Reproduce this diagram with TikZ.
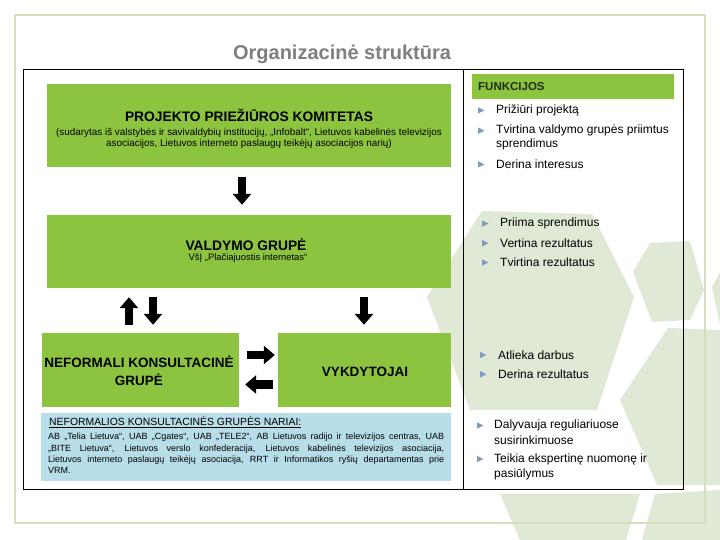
\documentclass[tikz,border=0pt]{standalone}
\usepackage{fontspec}
\setmainfont{Liberation Sans}
\usetikzlibrary{arrows.meta}
\definecolor{grn}{HTML}{8CC43F}
\definecolor{ltblue}{HTML}{B7DDE8}
\definecolor{framec}{HTML}{D5DFC0}
\definecolor{hexc}{HTML}{E0E9D5}
\definecolor{titlec}{HTML}{7F7F7F}
\definecolor{bulc}{HTML}{7D9BC3}
\definecolor{funkc}{HTML}{1F2E14}
\newcommand\tribul[2]{\fill[bulc] (#1-3,#2-3.2) -- (#1+3.5,#2) -- (#1-3,#2+3.2) -- cycle;}
\begin{document}
\begin{tikzpicture}[x=1pt,y=-1pt,
  gbox/.style={fill=grn, draw=none, inner sep=0pt},
  blk/.style={line width=8.5pt, -{Triangle[width=18pt,length=11pt]}},
  ftxt/.style={anchor=west, inner sep=0pt, font=\fontsize{12}{14}\selectfont},
  btitle/.style={inner sep=0pt, align=center, font=\fontsize{13.8}{16.5}\selectfont\bfseries},
  bsub/.style={inner sep=0pt, align=center, font=\fontsize{9.9}{11}\selectfont}]
\useasboundingbox (0,0) rectangle (720,540);
\fill[white] (0,0) rectangle (720,540);
% background hexagons
\fill[hexc] (482,211) -- (592,214) -- (634,297) -- (597,410) -- (470,410) -- (427,297) -- cycle;
\fill[hexc] (633,272) -- (650,243) -- (690,241) -- (704,290) -- (690,320) -- (652,322) -- cycle;
\fill[hexc] (620,400) -- (668,328) -- (720,330) -- (720,485) -- (657,485) -- cycle;
\fill[hexc] (712,287) -- (720,272) -- (720,325) -- cycle;
\fill[hexc] (500,494) -- (640,494) -- (626,540) -- (520,540) -- cycle;
\fill[hexc] (655,494) -- (720,490) -- (720,540) -- (642,540) -- cycle;
% slide frame
\draw[framec, line width=2pt] (15,15) rectangle (705,523);
% title
\node[font=\fontsize{20}{24}\selectfont\bfseries, text=titlec, inner sep=0pt] (title) at (342,54) {Organizacinė struktūra};
% main frame
\draw[line width=0.8pt] (23,69) rectangle (683,489);
\draw[line width=0.8pt] (463,69) -- (463,489);
% boxes
\node[gbox, minimum width=404pt, minimum height=83pt] (pk) at (248.5,125.5) {};
\node[btitle] (pkt) at (249,115) {PROJEKTO PRIEŽIŪROS KOMITETAS};
\node[bsub] (pks) at (249,138) {(sudarytas iš valstybės ir savivaldybių institucijų, „Infobalt“, Lietuvos kabelinės televizijos\\asociacijos, Lietuvos interneto paslaugų teikėjų asociacijos narių)};
\node[gbox, minimum width=404pt, minimum height=73pt] (vg) at (249,251.5) {};
\node[btitle] (vgt) at (246,245) {VALDYMO GRUPĖ};
\node[bsub, font=\fontsize{9.4}{11}\selectfont] (vgs) at (248,258.5) {VšĮ „Plačiajuostis internetas“};
\node[gbox, minimum width=197pt, minimum height=74pt] (nf) at (140.5,370) {};
\node[btitle, font=\fontsize{13.5}{17.5}\selectfont\bfseries] (nft) at (139,371) {NEFORMALI KONSULTACINĖ\\GRUPĖ};
\node[gbox, minimum width=173pt, minimum height=74pt] (vk) at (364.5,370) {};
\node[btitle, font=\fontsize{13.5}{17.5}\selectfont\bfseries] (vkt) at (365,371.5) {VYKDYTOJAI};
\node[fill=ltblue, minimum width=410pt, minimum height=68pt, inner sep=0pt] (nk) at (246,447) {};
\node[anchor=west, inner sep=0pt, font=\fontsize{10.4}{12}\selectfont] (nkh) at (49,422.5) {\underline{NEFORMALIOS KONSULTACINĖS GRUPĖS NARIAI:}};
\node[anchor=north west, inner sep=0pt, text width=396pt, align=justify, font=\fontsize{9}{11.3}\selectfont] (nkb) at (48,433) {\hyphenpenalty=10000\relax AB „Telia Lietuva“, UAB „Cgates“, UAB „TELE2“, AB Lietuvos radijo ir televizijos centras, UAB\linebreak „BITE Lietuva“, Lietuvos verslo konfederacija, Lietuvos kabelinės televizijos asociacija,\linebreak Lietuvos interneto paslaugų teikėjų asociacija, RRT ir Informatikos ryšių departamentas prie\linebreak VRM.};
% arrows
\coordinate (xa) at (242,0);
\coordinate (xu) at (129,0);
\coordinate (xd) at (153,0);
\coordinate (xr) at (364,0);
\coordinate (yr) at (0,355);
\coordinate (yl) at (0,384.5);
\draw[blk, shorten <=10pt, shorten >=10pt] (pk.south -| xa) -- (vg.north -| xa);
\draw[blk, shorten <=8pt, shorten >=9pt] (nf.north -| xu) -- (vg.south -| xu);
\draw[blk, shorten <=9pt, shorten >=8pt] (vg.south -| xd) -- (nf.north -| xd);
\draw[blk, shorten <=9pt, shorten >=8pt] (vg.south -| xr) -- (vk.north -| xr);
\draw[blk, shorten <=8pt, shorten >=3pt] (nf.east |- yr) -- (vk.west |- yr);
\draw[blk, shorten <=5pt, shorten >=6pt] (vk.west |- yl) -- (nf.east |- yl);
% functions column
\node[fill=grn, minimum width=202pt, minimum height=25pt, inner sep=0pt] (fb) at (573,86.5) {};
\node[anchor=west, inner sep=0pt, text=funkc, font=\fontsize{11.5}{13}\selectfont\bfseries] (fbt) at (478,87) {FUNKCIJOS};
\tribul{481}{110.4}
\node[ftxt] (f1) at (496,110.4) {Prižiūri projektą};
\tribul{481}{130.7}
\node[ftxt] (f2) at (496,130.7) {Tvirtina valdymo grupės priimtus};
\node[ftxt] (f2b) at (496,144.5) {sprendimus};
\tribul{481}{164.4}
\node[ftxt] (f3) at (496,164.4) {Derina interesus};
\tribul{485}{223.6}
\node[ftxt] (f4) at (500,223.6) {Priima sprendimus};
\tribul{485}{243.2}
\node[ftxt] (f5) at (500,243.2) {Vertina rezultatus};
\tribul{485}{262.5}
\node[ftxt] (f6) at (500,262.5) {Tvirtina rezultatus};
\tribul{483}{355}
\node[ftxt] (f7) at (498,355) {Atlieka darbus};
\tribul{483}{374.3}
\node[ftxt] (f8) at (498,374.3) {Derina rezultatus};
\tribul{480}{425.5}
\node[ftxt] (f9) at (494,425.5) {Dalyvauja reguliariuose};
\node[ftxt] (f9b) at (494,440) {susirinkimuose};
\tribul{480}{459}
\node[ftxt] (f10) at (494,459) {Teikia ekspertinę nuomonę ir};
\node[ftxt] (f10b) at (494,474) {pasiūlymus};
\end{tikzpicture}
\end{document}
